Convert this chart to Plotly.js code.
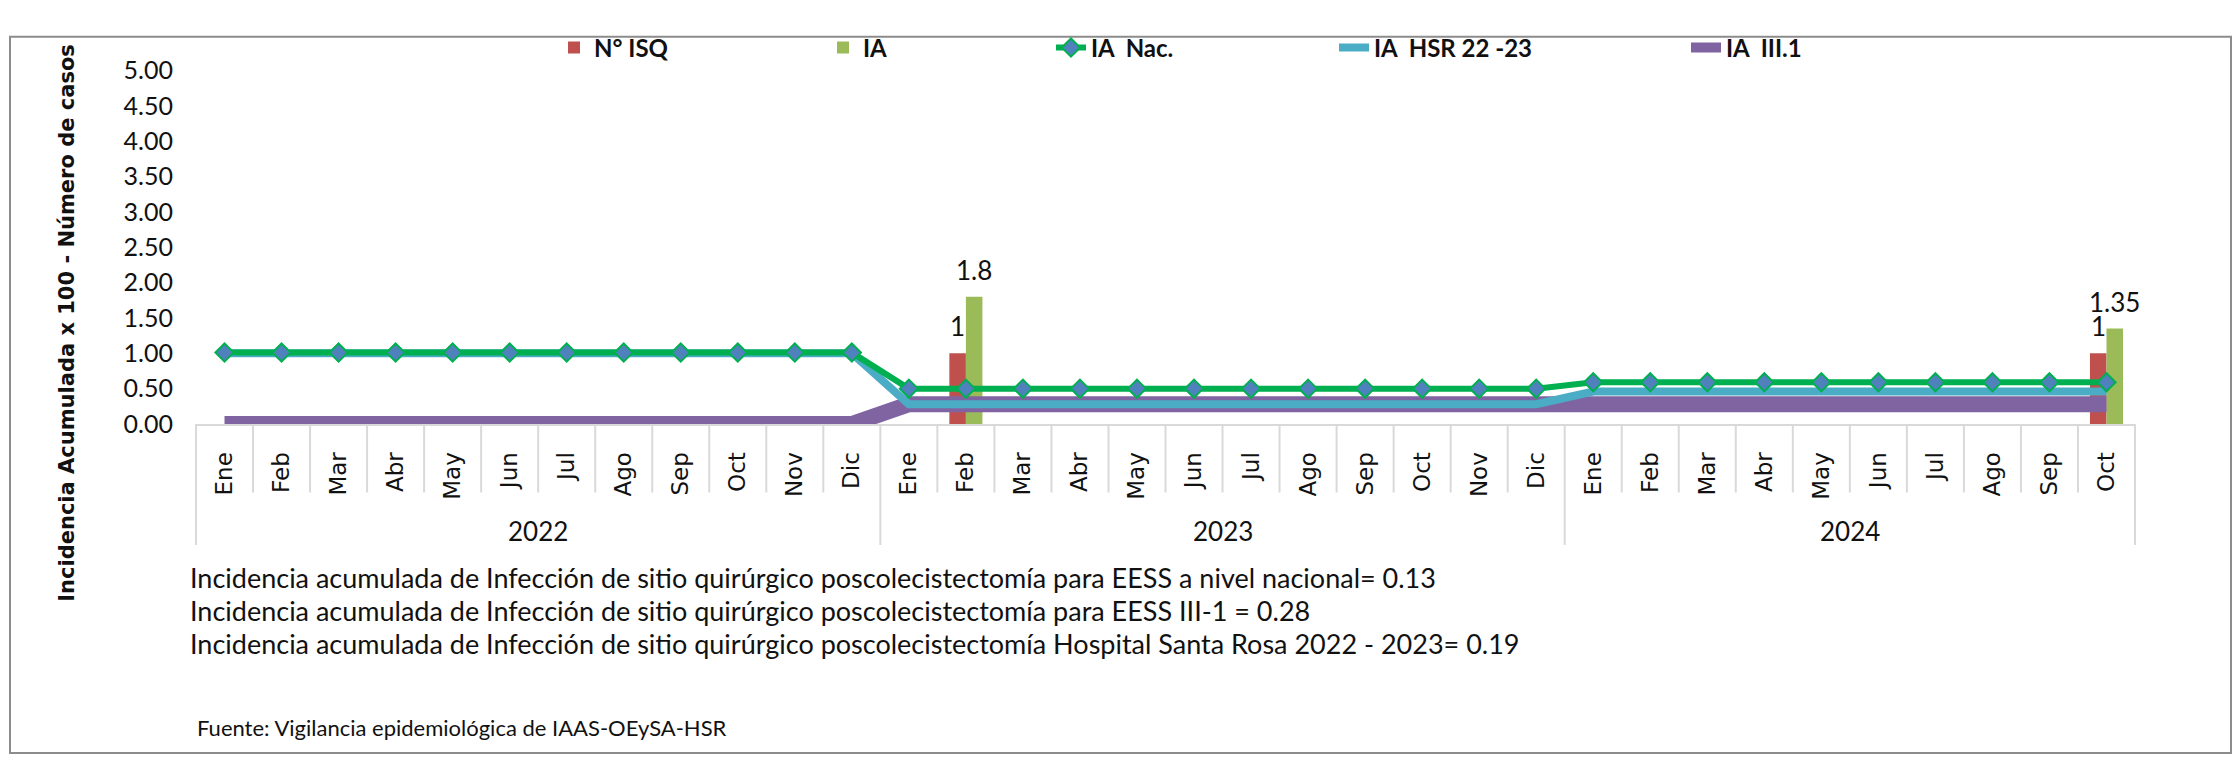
<!DOCTYPE html>
<html>
<head>
<meta charset="utf-8">
<script src="https://cdn.plot.ly/plotly-3.0.1.min.js"></script>
<style>
  body { margin: 0; background: #fff; }
  #chart { width: 2239px; height: 778px; }
</style>
</head>
<body>
<div id="chart"></div>
<script>
var years = ['2022', '2023', '2024'];
var monthNames = ['Ene', 'Feb', 'Mar', 'Abr', 'May', 'Jun', 'Jul', 'Ago', 'Sep', 'Oct', 'Nov', 'Dic'];
var monthsPerYear = [12, 12, 10];

// one value per month, Ene 2022 .. Oct 2024
var nIsq = [null, null, null, null, null, null, null, null, null, null, null, null,
            null, 1, null, null, null, null, null, null, null, null, null, null,
            null, null, null, null, null, null, null, null, null, 1];
var ia = [null, null, null, null, null, null, null, null, null, null, null, null,
          null, 1.8, null, null, null, null, null, null, null, null, null, null,
          null, null, null, null, null, null, null, null, null, 1.35];
var iaNac = [1.01, 1.01, 1.01, 1.01, 1.01, 1.01, 1.01, 1.01, 1.01, 1.01, 1.01, 1.01,
             0.5, 0.5, 0.5, 0.5, 0.5, 0.5, 0.5, 0.5, 0.5, 0.5, 0.5, 0.5,
             0.59, 0.59, 0.59, 0.59, 0.59, 0.59, 0.59, 0.59, 0.59, 0.59];
var iaHsr = [1, 1, 1, 1, 1, 1, 1, 1, 1, 1, 1, 1,
             0.28, 0.28, 0.28, 0.28, 0.28, 0.28, 0.28, 0.28, 0.28, 0.28, 0.28, 0.28,
             0.46, 0.46, 0.46, 0.46, 0.46, 0.46, 0.46, 0.46, 0.46, 0.46];
var iaIII1 = [0, 0, 0, 0, 0, 0, 0, 0, 0, 0, 0, 0,
              0.28, 0.28, 0.28, 0.28, 0.28, 0.28, 0.28, 0.28, 0.28, 0.28, 0.28, 0.28,
              0.28, 0.28, 0.28, 0.28, 0.28, 0.28, 0.28, 0.28, 0.28, 0.28];

var notes = [
  'Incidencia acumulada de Infección de sitio quirúrgico poscolecistectomía para EESS a nivel nacional= 0.13',
  'Incidencia acumulada de Infección de sitio quirúrgico poscolecistectomía para EESS III-1 = 0.28',
  'Incidencia acumulada de Infección de sitio quirúrgico poscolecistectomía Hospital Santa Rosa 2022 - 2023= 0.19'
];
var source = 'Fuente: Vigilancia epidemiológica de IAAS-OEySA-HSR';

// category positions along x
var xi = [], catMonths = [], yearStart = [];
years.forEach(function (y, k) {
  yearStart.push(xi.length);
  for (var m = 0; m < monthsPerYear[k]; m++) {
    catMonths.push(monthNames[m]);
    xi.push(xi.length);
  }
});
var nCat = xi.length;

var W = 2239, H = 778, L = 196, R = 104, T = 47, B = 354;
var plotW = W - L - R, plotH = H - T - B;
function px(xp) { return (xp - L) / plotW; }
function py(yp) { return (H - B - yp) / plotH; }

var narrow = 'Lato, "Liberation Sans", sans-serif';
var wide = '"DejaVu Sans", Verdana, sans-serif';
var bargap = 0.42;

var traces = [
  {type: 'bar', name: 'N° ISQ', x: xi, y: nIsq, marker: {color: '#C0504D'}, legend: 'legend'},
  {type: 'bar', name: 'IA', x: xi, y: ia, marker: {color: '#9BBB59'}, legend: 'legend2'},
  {type: 'scatter', mode: 'lines', name: 'IA  III.1', x: xi, y: iaIII1,
   line: {color: '#8064A2', width: 16}, legend: 'legend5'},
  {type: 'scatter', mode: 'lines', name: 'IA  HSR 22 -23', x: xi, y: iaHsr,
   line: {color: '#4BACC6', width: 8}, legend: 'legend4'},
  {type: 'scatter', mode: 'lines+markers', name: 'IA  Nac.', x: xi, y: iaNac,
   line: {color: '#00B050', width: 6},
   marker: {symbol: 'diamond', size: 14, color: '#4F81BD', line: {color: '#00B050', width: 2}},
   legend: 'legend3'}
];

var annotations = [];
// bar value labels
var barPx = (1 - bargap) / 2 * plotW / nCat;
[nIsq, ia].forEach(function (arr, k) {
  arr.forEach(function (v, i) {
    if (v === null) return;
    annotations.push({x: xi[i], y: v, xref: 'x', yref: 'y', text: String(v), showarrow: false,
      xshift: (k === 0 ? -1 : 1) * barPx / 2, yshift: 27,
      font: {family: narrow, size: 26, color: '#111'}});
  });
});
// year labels
years.forEach(function (y, k) {
  annotations.push({x: yearStart[k] + (monthsPerYear[k] - 1) / 2, y: py(538), xref: 'x', yref: 'paper',
    text: y, showarrow: false, yanchor: 'middle', font: {family: narrow, size: 26, color: '#111'}});
});
// y title
annotations.push({x: px(67), y: py(316), xref: 'paper', yref: 'paper', xanchor: 'center', yanchor: 'middle',
  textangle: -90, showarrow: false,
  text: 'Incidencia Acumulada x 100 - Número de casos',
  font: {family: wide, size: 21, weight: 'bold', color: '#111'}});
// notes
notes.forEach(function (t, k) {
  annotations.push({x: px(188), y: py(588 + k * 35), xref: 'paper', yref: 'paper', xanchor: 'left',
    yanchor: 'middle', text: t, showarrow: false, font: {family: narrow, size: 27, color: '#111'}});
});
annotations.push({x: px(195), y: py(748), xref: 'paper', yref: 'paper', xanchor: 'left', yanchor: 'middle',
  text: source, showarrow: false, font: {family: narrow, size: 22, color: '#111'}});

var shapes = [];
// month separators and year dividers
for (var b = 0; b <= nCat; b++) {
  var isYear = yearStart.indexOf(b) >= 0 || b === nCat;
  shapes.push({type: 'line', xref: 'paper', yref: 'paper', x0: b / nCat, x1: b / nCat,
    y0: 0, y1: py(isYear ? 553 : 497), line: {color: '#D9D9D9', width: 2}});
}
// outer frame
shapes.push({type: 'rect', xref: 'paper', yref: 'paper', x0: px(10), x1: px(2231), y0: py(775), y1: py(11),
  line: {color: '#8C8C8C', width: 2}});

function legendAt(textX) {
  return {orientation: 'h', xref: 'container', yref: 'container', x: (textX - 41) / W, y: 1 - 48 / H,
    xanchor: 'left', yanchor: 'middle', bgcolor: 'rgba(0,0,0,0)',
    font: {family: narrow, size: 24, weight: 'bold', color: '#111'}};
}

var layout = {
  width: W, height: H,
  margin: {l: L, r: R, t: T, b: B},
  paper_bgcolor: '#fff', plot_bgcolor: '#fff',
  barmode: 'group', bargap: bargap, bargroupgap: 0,
  showlegend: true,
  legend: legendAt(595),
  legend2: legendAt(864),
  legend3: legendAt(1092),
  legend4: legendAt(1375),
  legend5: legendAt(1727),
  hovermode: false,
  xaxis: {
    range: [-0.5, nCat - 0.5], tickmode: 'array', tickvals: xi, ticktext: catMonths,
    tickangle: -90, ticks: '', ticklabelstandoff: 17, showgrid: false, zeroline: false,
    showline: true, linecolor: '#D9D9D9', linewidth: 2, automargin: false,
    tickfont: {family: wide, size: 23, color: '#111'}
  },
  yaxis: {
    range: [0, 5], dtick: 0.5, tickformat: '.2f', showgrid: false, zeroline: false, showline: false,
    ticks: '', ticklabelstandoff: 22, automargin: false,
    tickfont: {family: narrow, size: 25, color: '#111'}
  },
  annotations: annotations,
  shapes: shapes
};

Plotly.newPlot('chart', traces, layout, {displayModeBar: false});
</script>
</body>
</html>
